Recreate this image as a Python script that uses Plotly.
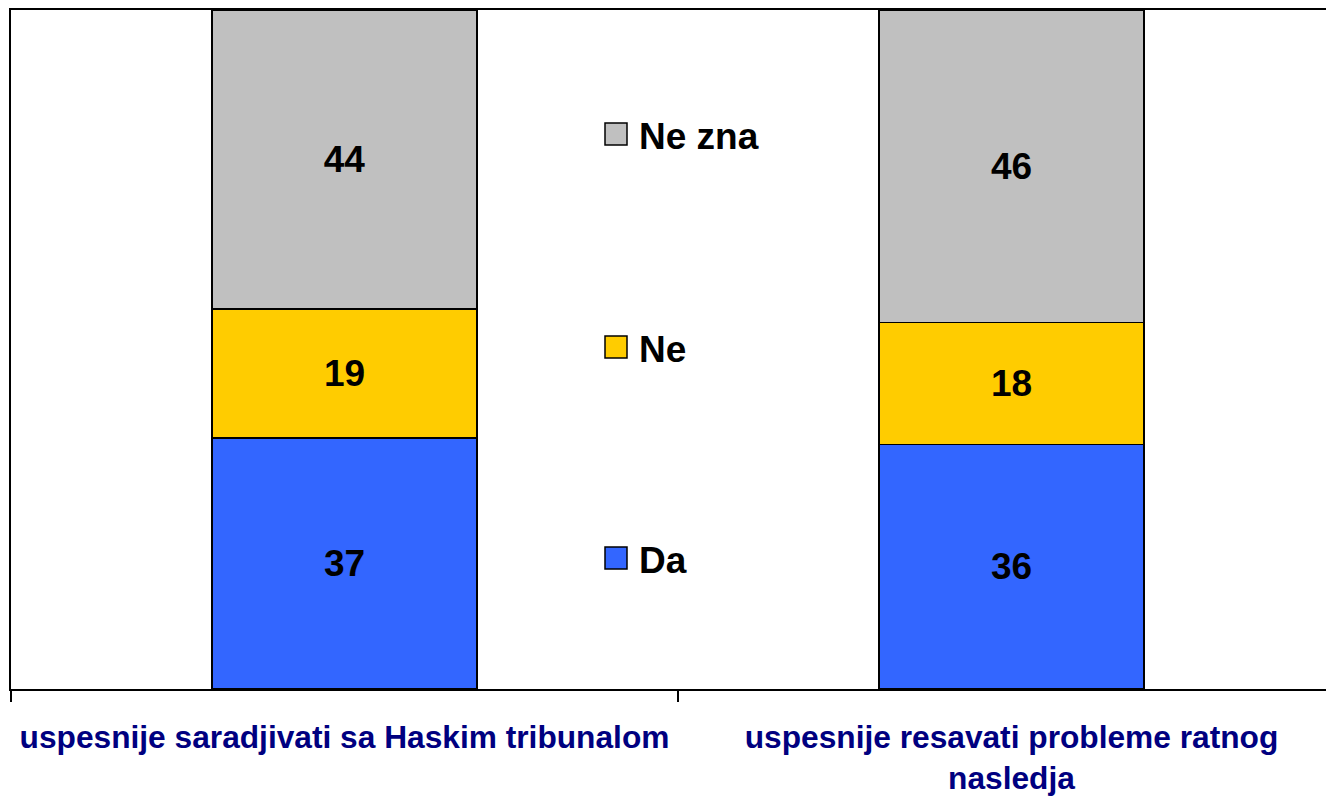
import plotly.graph_objects as go

# Survey answers (percent) for the two statements
categories = [
    "uspesnije saradjivati sa Haskim tribunalom",
    "uspesnije resavati probleme ratnog<br>nasledja",
]
series_names = ["Da", "Ne", "Ne zna"]
da_values = [37, 36]
ne_values = [19, 18]
ne_zna_values = [44, 46]

series_values = [da_values, ne_values, ne_zna_values]
series_colors = ["#3366FF", "#FFCC00", "#C0C0C0"]

W, H = 1326, 796
ML, MR, MT, MB = 11, 0, 10, 107
PLOT_W = W - ML - MR
PLOT_H = H - MT - MB
CAT_PX = 667  # width of one category slot in pixels

FONT = "Arial, Liberation Sans, sans-serif"

fig = go.Figure()
for name, vals, color in zip(series_names, series_values, series_colors):
    fig.add_trace(go.Bar(
        name=name,
        x=categories,
        y=vals,
        width=0.397,
        marker=dict(color=color, line=dict(color="black", width=1.5)),
        text=vals,
        texttemplate="%{text}",
        textposition="inside",
        insidetextanchor="middle",
        textangle=0,
        textfont=dict(family=FONT, size=37, color="black", weight="bold"),
        showlegend=False,
    ))


def px_x(p):
    return (p - ML) / PLOT_W


def px_y(p):
    return (MT + PLOT_H - p) / PLOT_H


# Legend drawn inside the plot, between the two bars (top entry first)
legend_rows = [("Ne zna", "#C0C0C0", 134), ("Ne", "#FFCC00", 347), ("Da", "#3366FF", 558)]
shapes = []
annotations = []
for label, color, cy in legend_rows:
    shapes.append(dict(
        type="rect", xref="paper", yref="paper",
        x0=px_x(605), x1=px_x(627), y0=px_y(cy + 11), y1=px_y(cy - 11),
        fillcolor=color, line=dict(color="black", width=1.5),
    ))
    annotations.append(dict(
        text=label, xref="paper", yref="paper",
        x=px_x(637), y=px_y(cy + 2), xanchor="left", yanchor="middle",
        showarrow=False,
        font=dict(family=FONT, size=37, color="black", weight="bold"),
    ))

fig.update_layout(
    width=W, height=H,
    margin=dict(l=ML, r=MR, t=MT, b=MB, pad=0),
    barmode="stack",
    paper_bgcolor="white",
    plot_bgcolor="white",
    shapes=shapes,
    annotations=annotations,
    xaxis=dict(
        type="category",
        range=[-0.5, -0.5 + PLOT_W / CAT_PX],
        automargin=False,
        showline=True, linecolor="black", linewidth=2, mirror=True,
        ticks="outside", tickson="boundaries", ticklen=11, tickwidth=2, tickcolor="black",
        ticklabelstandoff=19,
        tickfont=dict(family=FONT, size=31.7, color="#000080", weight="bold"),
        showgrid=False, zeroline=False,
    ),
    yaxis=dict(
        range=[0, 100],
        automargin=False,
        showline=True, linecolor="black", linewidth=2,
        showticklabels=False, ticks="",
        showgrid=False, zeroline=False,
    ),
)

fig.write_html("out.html")
